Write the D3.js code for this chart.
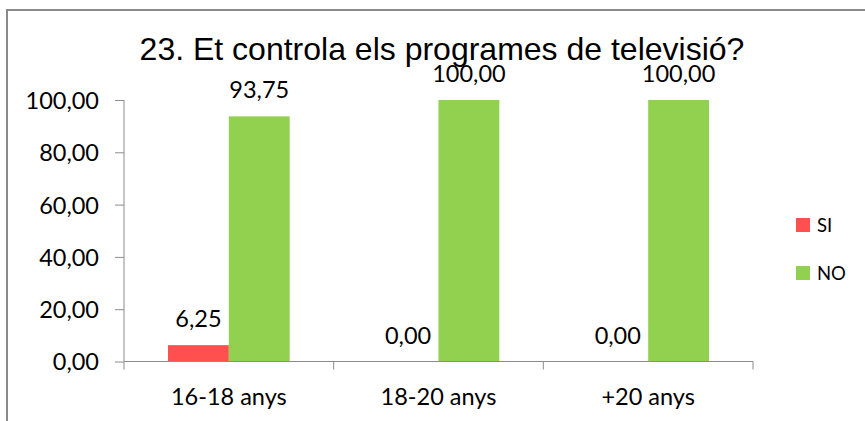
<!DOCTYPE html>
<html>
<head>
<meta charset="utf-8">
<script src="https://cdn.jsdelivr.net/npm/d3@7"></script>
<style>
  body { margin: 0; background: #fff; }
  text { font-family: Lato, "Open Sans", sans-serif; fill: #000; }
</style>
</head>
<body>
<svg id="chart" width="865" height="421"></svg>
<script>
// données du graphique
var categories = ['16-18 anys', '18-20 anys', '+20 anys'];
var seriesNames = ['SI', 'NO'];
var siValues = [6.25, 0.00, 0.00];
var noValues = [93.75, 100.00, 100.00];
var yTicks = [0, 20, 40, 60, 80, 100];
var colors = ['#FF4F4F', '#92D050'];
var title = '23. Et controla els programes de televisió?';

var fmt = function(v){ return d3.format('.2f')(v).replace('.', ','); };

var svg = d3.select('#chart');

// cadre
svg.append('path')
  .attr('d', 'M7,421 V10 H865')
  .attr('fill', 'none')
  .attr('stroke', '#8a8a8a')
  .attr('stroke-width', 2);

svg.append('text')
  .attr('x', 442).attr('y', 60)
  .attr('text-anchor', 'middle')
  .style('font-family', '"Liberation Sans", Arial, sans-serif')
  .style('font-size', '32px')
  .text(title);

var x0 = d3.scaleBand().domain(categories).range([124, 753]);
var x1 = d3.scaleBand().domain(seriesNames).range([44, x0.bandwidth() - 44]);
var y = d3.scaleLinear().domain([0, 100]).range([361.5, 100]);

var rows = categories.map(function(c, i){
  return { cat: c, vals: [siValues[i], noValues[i]] };
});

var axisColor = '#8c8c8c';

// axe Y
var yAxis = svg.append('g').attr('transform', 'translate(124,0)')
  .call(d3.axisLeft(y).tickValues(yTicks).tickSize(9).tickPadding(16).tickFormat(fmt));
yAxis.select('.domain').attr('stroke', axisColor).attr('d', 'M0,' + y(100) + 'V' + y(0));
yAxis.selectAll('.tick line').attr('stroke', axisColor);
yAxis.selectAll('.tick text')
  .style('font-family', 'Lato, sans-serif')
  .style('font-size', '23.5px')
  .attr('dy', '0.36em');

// barres
var groups = svg.selectAll('.grp').data(rows).enter()
  .append('g').attr('class', 'grp')
  .attr('transform', function(d){ return 'translate(' + x0(d.cat) + ',0)'; });

groups.selectAll('rect').data(function(d){ return d.vals; }).enter()
  .append('rect')
  .attr('x', function(v, i){ return x1(seriesNames[i]); })
  .attr('width', x1.bandwidth())
  .attr('y', function(v){ return y(v); })
  .attr('height', function(v){ return y(0) - y(v); })
  .attr('fill', function(v, i){ return colors[i]; });

groups.selectAll('.lbl').data(function(d){ return d.vals; }).enter()
  .append('text').attr('class', 'lbl')
  .attr('x', function(v, i){ return x1(seriesNames[i]) + x1.bandwidth() / 2; })
  .attr('y', function(v){ return y(v) - 18; })
  .attr('text-anchor', 'middle')
  .style('font-size', '23.5px')
  .text(fmt);

// axe X
var xAxis = svg.append('g').attr('transform', 'translate(0,' + y(0) + ')');
xAxis.append('line')
  .attr('x1', 124).attr('x2', 753)
  .attr('stroke', axisColor);
var edges = categories.map(function(c){ return x0(c); }).concat([x0.range()[1]]);
xAxis.selectAll('.tk').data(edges).enter()
  .append('line').attr('class', 'tk')
  .attr('x1', function(d){ return d; }).attr('x2', function(d){ return d; })
  .attr('y1', 0).attr('y2', 8)
  .attr('stroke', axisColor);
xAxis.selectAll('.cat').data(categories).enter()
  .append('text').attr('class', 'cat')
  .attr('x', function(d){ return x0(d) + x0.bandwidth() / 2; })
  .attr('y', 43)
  .attr('text-anchor', 'middle')
  .style('font-size', '23.5px')
  .text(function(d){ return d; });

// légende
var legend = svg.selectAll('.leg').data(seriesNames).enter()
  .append('g').attr('class', 'leg')
  .attr('transform', function(d, i){ return 'translate(796,' + (218 + i * 48) + ')'; });
legend.append('rect').attr('width', 14).attr('height', 14)
  .attr('fill', function(d, i){ return colors[i]; });
legend.append('text').attr('x', 21).attr('y', 7).attr('dy', '0.36em')
  .style('font-size', '18.5px')
  .text(function(d){ return d; });
</script>
</body>
</html>
